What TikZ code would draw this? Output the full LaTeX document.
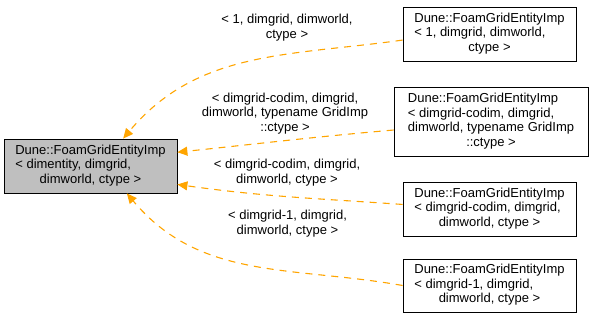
\documentclass[tikz,border=0pt]{standalone}
\usepackage{fontspec}
\setmainfont{Liberation Sans}
\usepackage{xcolor}
\usetikzlibrary{arrows.meta}
\definecolor{deporange}{HTML}{FFA500}
\definecolor{basegray}{HTML}{BFBFBF}
% last lines of a class name are centred under the widest line
\newcommand{\mc}[1]{\multicolumn{1}{@{}c@{}}{#1}}
\tikzset{
  cls/.style={draw=black,line width=0.8pt,inner sep=0pt,font=\fontsize{13}{14.5}\selectfont},
  lbl/.style={align=center,inner sep=0pt,font=\fontsize{13}{14.5}\selectfont},
  dep/.style={-{Triangle[length=10pt,width=9pt]},deporange,line width=1.1pt,dash pattern=on 7pt off 6pt},
}

\begin{document}
\begin{tikzpicture}[x=1pt,y=1pt]
\useasboundingbox (0,0) rectangle (591,323);
\node[cls,fill=basegray,minimum width=173pt,minimum height=54pt] (main) at (90.5,157)
  {\begin{tabular}{@{}l@{}}Dune::FoamGridEntityImp\\< dimentity, dimgrid,\\\mc{dimworld, ctype >}\end{tabular}};
\node[cls,minimum width=173pt,minimum height=54pt] (b1) at (489.5,289)
  {\begin{tabular}{@{}l@{}}Dune::FoamGridEntityImp\\< 1, dimgrid, dimworld,\\\mc{ctype >}\end{tabular}};
\node[cls,minimum width=194pt,minimum height=69pt] (b2) at (491,201.5)
  {\begin{tabular}{@{}l@{}}Dune::FoamGridEntityImp\\< dimgrid-codim, dimgrid,\\\mc{dimworld, typename GridImp}\\\mc{::ctype >}\end{tabular}};
\node[cls,minimum width=173pt,minimum height=54pt] (b3) at (489.5,114)
  {\begin{tabular}{@{}l@{}}Dune::FoamGridEntityImp\\< dimgrid-codim, dimgrid,\\\mc{dimworld, ctype >}\end{tabular}};
\node[cls,minimum width=173pt,minimum height=53pt] (b4) at (489.5,37.5)
  {\begin{tabular}{@{}l@{}}Dune::FoamGridEntityImp\\< dimgrid-1, dimgrid,\\\mc{dimworld, ctype >}\end{tabular}};
% template arguments on the edges
\node[lbl] (l1) at (287,295.5) {< 1, dimgrid, dimworld,\\ctype >};
\node[lbl] (l2) at (285,209.5) {< dimgrid-codim, dimgrid,\\dimworld, typename GridImp\\::ctype >};
\node[lbl] (l3) at (287,150.5) {< dimgrid-codim, dimgrid,\\dimworld, ctype >};
\node[lbl] (l4) at (287.5,99.5) {< dimgrid-1, dimgrid,\\dimworld, ctype >};
\draw[dep] (b1.184) to[out=188,in=50] (main.40);
\draw[dep] (b2.185) to[out=185,in=6] (main.9);
\draw[dep] (b3.177) to[out=176,in=-8] (main.-12);
\draw[dep] (b4.west) to[out=170,in=-50] (main.-37);
\end{tikzpicture}
\end{document}
